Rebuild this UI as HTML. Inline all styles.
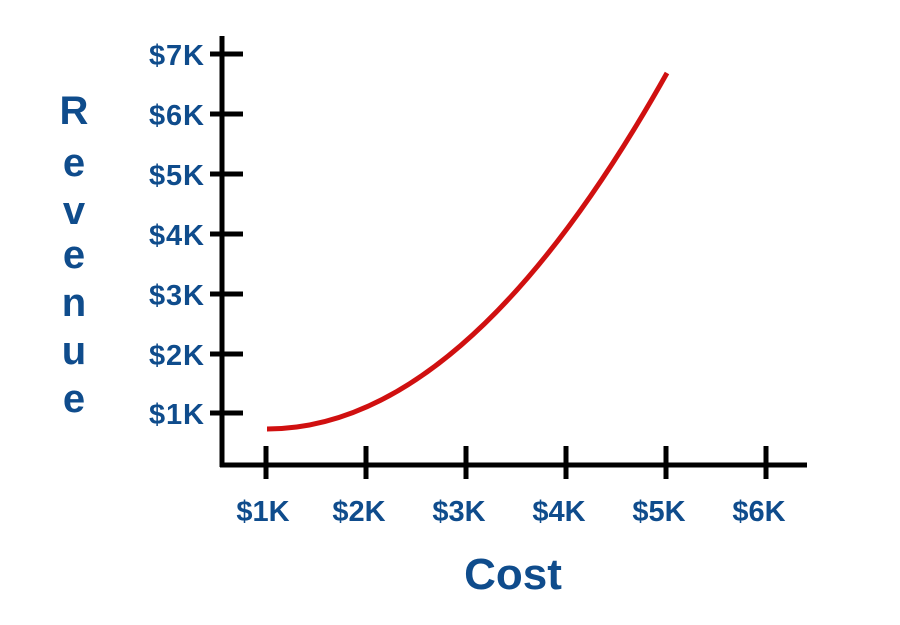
<!DOCTYPE html>
<html><head><style>
body{margin:0;background:#fff;width:900px;height:620px;overflow:hidden}
text{font-family:"Liberation Sans",sans-serif;font-weight:bold;fill:#0f4c8c}
</style></head><body>
<svg width="900" height="620" viewBox="0 0 900 620">
<g stroke="#000" stroke-width="5" fill="none">
<line x1="222" y1="36" x2="222" y2="467"/>
<line x1="220" y1="465" x2="807" y2="465"/>
<line x1="210" y1="54" x2="243" y2="54"/>
<line x1="210" y1="114" x2="243" y2="114"/>
<line x1="210" y1="174" x2="243" y2="174"/>
<line x1="210" y1="234" x2="243" y2="234"/>
<line x1="210" y1="294" x2="243" y2="294"/>
<line x1="210" y1="354" x2="243" y2="354"/>
<line x1="210" y1="413" x2="243" y2="413"/>
<line x1="266" y1="446" x2="266" y2="479"/>
<line x1="366" y1="446" x2="366" y2="479"/>
<line x1="466" y1="446" x2="466" y2="479"/>
<line x1="566" y1="446" x2="566" y2="479"/>
<line x1="666" y1="446" x2="666" y2="479"/>
<line x1="766" y1="446" x2="766" y2="479"/>
</g>
<path d="M267 429 Q467 429 667 73" stroke="#d01010" stroke-width="5" fill="none"/>
<g font-size="29" text-anchor="end" textLength="55">
<text x="204" y="65" textLength="55">$7K</text>
<text x="204" y="125" textLength="55">$6K</text>
<text x="204" y="185" textLength="55">$5K</text>
<text x="204" y="245" textLength="55">$4K</text>
<text x="204" y="305" textLength="55">$3K</text>
<text x="204" y="365" textLength="55">$2K</text>
<text x="204" y="424" textLength="55">$1K</text>
</g>
<g font-size="29" text-anchor="middle">
<text x="263" y="521">$1K</text>
<text x="359" y="521">$2K</text>
<text x="459" y="521">$3K</text>
<text x="559" y="521">$4K</text>
<text x="659" y="521">$5K</text>
<text x="759" y="521">$6K</text>
</g>
<text x="513" y="589" font-size="44" text-anchor="middle">Cost</text>
<g font-size="40" text-anchor="middle">
<text x="74" y="124">R</text>
<text x="74" y="176">e</text>
<text x="74" y="224">v</text>
<text x="74" y="268">e</text>
<text x="74" y="316">n</text>
<text x="74" y="364">u</text>
<text x="74" y="412">e</text>
</g>
</svg>
</body></html>
